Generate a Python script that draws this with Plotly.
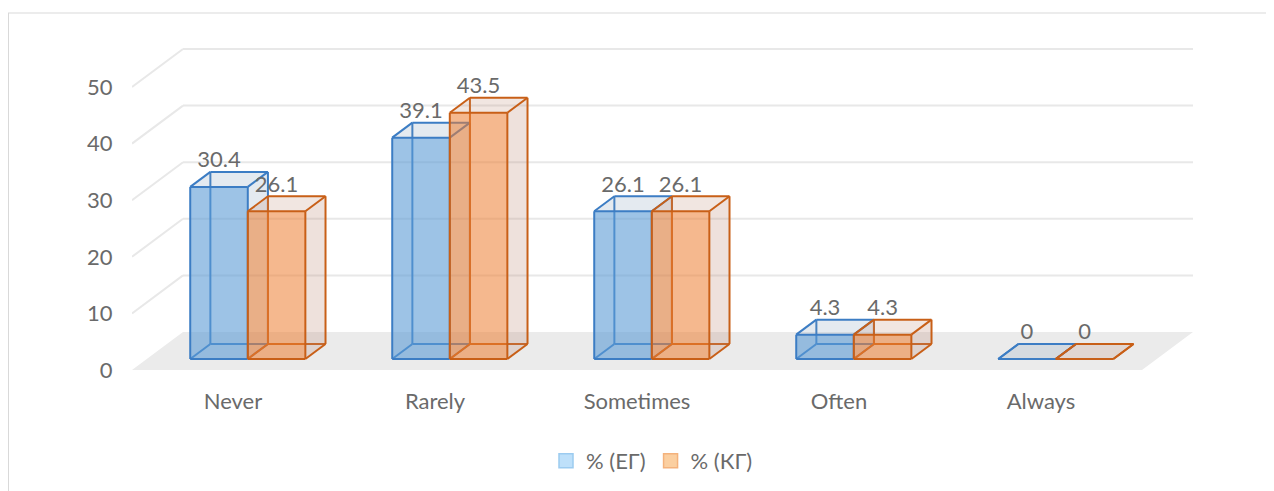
import plotly.graph_objects as go

# ---------------- data ----------------
categories = ["Never", "Rarely", "Sometimes", "Often", "Always"]
series_names = ["% (ЕГ)", "% (КГ)"]
eg_values = [30.4, 39.1, 26.1, 4.3, 0]
kg_values = [26.1, 43.5, 26.1, 4.3, 0]
y_ticks = [0, 10, 20, 30, 40, 50]
y_tick_labels = ["0", "10", "20", "30", "40", "50"]

# ---------------- styling / geometry ----------------
FONT = "Lato, 'Open Sans', sans-serif"
TXT = "#6a6a6a"
OFF = 8                           # page body margin
W, H = 1274 - OFF, 491 - OFF
ML = 132 - OFF                    # floor front-left corner (page x 132)
Y0 = 370 - OFF                    # floor front edge (page y 370)
MB = H - Y0
SX = 202.0                        # px per category slot
SY = 5.66                         # px per value unit
XR = (W - ML) / SX
YR = Y0 / SY
DX = 51 / SX                      # oblique depth offset (slots)
DY = 38 / SY                      # oblique depth offset (value units)
F0, F1 = 0.29, 0.685              # bar depth inside the floor
BW = 0.285                        # bar width (slots)

styles = [
    dict(edge="#3C7DC4", front="rgba(91,155,213,0.60)", top="rgba(120,150,180,0.20)",
         side="rgba(120,150,180,0.20)", leg_fill="#BEE0FA", leg_line="#9CCBF0"),
    dict(edge="#C85F17", front="rgba(237,125,49,0.55)", top="rgba(190,140,120,0.22)",
         side="rgba(190,140,120,0.26)", leg_fill="#FBCFA0", leg_line="#F4B27C"),
]


def proj(x, v, f):
    return x + f * DX, v + f * DY


fig = go.Figure()


def poly(pts, fill, line=None, width=0):
    xs = [p[0] for p in pts] + [pts[0][0]]
    ys = [p[1] for p in pts] + [pts[0][1]]
    fig.add_trace(go.Scatter(
        x=xs, y=ys, mode="lines", fill="toself", fillcolor=fill,
        line=dict(color=line or "rgba(0,0,0,0)", width=width),
        hoverinfo="skip", showlegend=False, cliponaxis=False))


def segs(seglist, color, width=2):
    xs, ys = [], []
    for a, b in seglist:
        xs += [a[0], b[0], None]
        ys += [a[1], b[1], None]
    fig.add_trace(go.Scatter(
        x=xs, y=ys, mode="lines", line=dict(color=color, width=width),
        hoverinfo="skip", showlegend=False, cliponaxis=False))


n = len(categories)
# floor
poly([proj(0, 0, 0), proj(n, 0, 0), proj(n, 0, 1), proj(0, 0, 1)], "#EBEBEB")
# gridlines: side wall (oblique) + back wall
grid = []
for t in y_ticks:
    if t > 0:
        grid.append((proj(0, t, 0), proj(0, t, 1)))
        grid.append((proj(0, t, 1), proj(n, t, 1)))
segs(grid, "#E8E8E8", 2)

# bars
all_values = [eg_values, kg_values]
for s, vals in enumerate(all_values):
    st = styles[s]
    for i, h in enumerate(vals):
        x0 = i + 0.5 - BW if s == 0 else i + 0.5
        x1 = x0 + BW
        A, B, C, D = proj(x0, 0, F0), proj(x1, 0, F0), proj(x1, h, F0), proj(x0, h, F0)
        E, F, G, Hh = proj(x0, 0, F1), proj(x1, 0, F1), proj(x1, h, F1), proj(x0, h, F1)
        # hidden edges
        segs([(E, F), (E, Hh), (A, E)], st["edge"], 2)
        # visible faces
        if h > 0:
            poly([B, C, G, F], st["side"])
        poly([D, C, G, Hh], st["top"])
        if h > 0:
            poly([A, B, C, D], st["front"])
        # visible edges
        segs([(A, B), (B, C), (C, D), (D, A), (D, Hh), (Hh, G), (G, C), (G, F), (F, B)],
             st["edge"], 2)
    # data labels
    lx = [(i + 0.5 - BW / 2 if s == 0 else i + 0.5 + BW / 2) + F0 * DX for i in range(n)]
    ly = [v + F1 * DY + 10 / SY for v in vals]
    fig.add_trace(go.Scatter(
        x=lx, y=ly, mode="text", text=[f"{v:g}" for v in vals],
        textposition="middle center", textfont=dict(family=FONT, size=22, color=TXT),
        hoverinfo="skip", showlegend=False, cliponaxis=False))

# legend entries
for s, name in enumerate(series_names):
    fig.add_trace(go.Scatter(x=[None], y=[None], name=name, mode="markers",
                             marker=dict(symbol="square", size=14, color=styles[s]["leg_fill"],
                                         line=dict(color=styles[s]["leg_line"], width=1.5))))

pw = W - ML
ph = Y0
fig.update_layout(
    width=W, height=H,
    margin=dict(l=ML, r=0, t=0, b=MB, pad=0),
    paper_bgcolor="white", plot_bgcolor="white",
    font=dict(family=FONT, size=22, color=TXT),
    showlegend=True,
    legend=dict(orientation="h", x=(652 - OFF - ML) / pw, xanchor="center",
                y=(ph - (461 - OFF)) / ph, yanchor="middle",
                font=dict(family=FONT, size=22, color=TXT),
                itemwidth=30, bgcolor="rgba(0,0,0,0)"),
    xaxis=dict(range=[0, XR], showgrid=False, zeroline=False, showline=False,
               tickmode="array", tickvals=[i + 0.5 for i in range(n)], ticktext=categories,
               ticks="outside", ticklen=12, tickcolor="rgba(0,0,0,0)",
               tickfont=dict(family=FONT, size=22, color=TXT), fixedrange=True),
    yaxis=dict(range=[0, YR], showgrid=False, zeroline=False, showline=False,
               tickmode="array", tickvals=y_ticks, ticktext=y_tick_labels,
               ticks="outside", ticklen=14, tickcolor="rgba(0,0,0,0)",
               tickfont=dict(family=FONT, size=22, color=TXT), fixedrange=True),
    shapes=[
        dict(type="line", xref="paper", yref="paper",
             x0=(8 - OFF - ML) / pw, x1=1.0, y0=(ph - (13 - OFF)) / ph, y1=(ph - (13 - OFF)) / ph,
             line=dict(color="#D9D9D9", width=1)),
        dict(type="line", xref="paper", yref="paper",
             x0=(8.5 - OFF - ML) / pw, x1=(8.5 - OFF - ML) / pw,
             y0=(ph - (13 - OFF)) / ph, y1=(ph - H) / ph,
             line=dict(color="#D9D9D9", width=1)),
    ],
)

fig.write_html("out.html")
